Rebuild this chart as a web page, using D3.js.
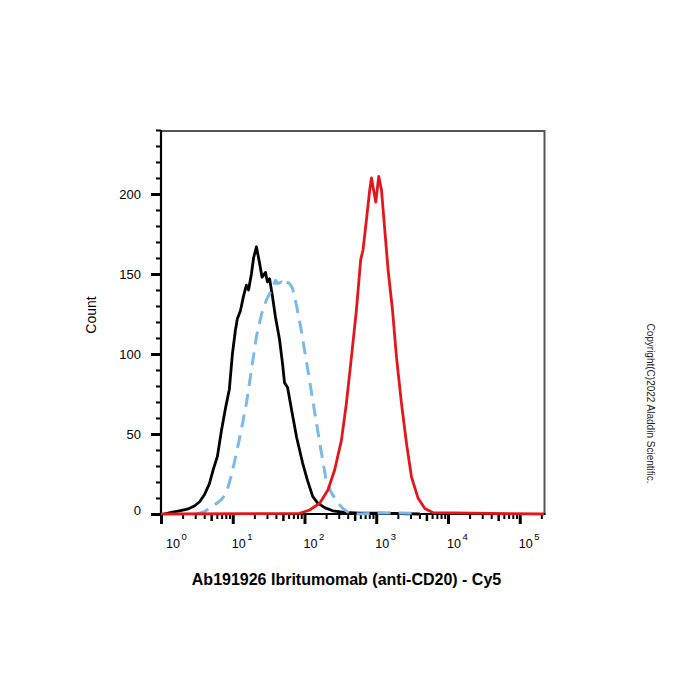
<!DOCTYPE html>
<html>
<head>
<meta charset="utf-8">
<script src="https://cdn.jsdelivr.net/npm/d3@7"></script>
<style>
  html, body { margin: 0; padding: 0; background: #fff; }
  svg { display: block; }
  text { font-family: "Liberation Sans", Arial, sans-serif; fill: #000; }
</style>
</head>
<body>
<svg id="chart" width="700" height="700"></svg>
<script>
// ---- data ----
const blackX = [1.11, 1.39, 1.80, 2.33, 2.92, 3.43, 4.03, 4.73, 5.37, 6.11, 6.95, 7.91, 8.97, 9.89, 10.9, 11.6, 12.8, 14.1, 15.5, 16.6, 18.2, 19.5, 21.4, 23.6, 25.6, 28.6, 30.5, 32.6, 35.8, 39.4, 44.9, 49.4, 52.7, 58.1, 66.1, 77.6, 94.0, 110, 130, 152, 191, 247, 363, 589, 1119, 4055];
const blackY = [0, 1, 2, 3, 5, 7.5, 12, 19, 28, 36, 52, 66, 78, 100, 115, 122, 127, 136, 143, 140, 150, 160, 167, 157, 148, 151, 145, 147, 136, 123, 109, 94, 82, 79, 65, 48, 32, 21, 11, 7, 4, 2, 1, 0.5, 0.5, 0];

const blueX = [3.11, 4.03, 4.73, 5.55, 6.95, 8.15, 9.27, 10.5, 12.0, 13.2, 15.5, 18.2, 21.4, 25.2, 29.6, 34.8, 39.5, 42.1, 47.9, 52.7, 56.2, 61.9, 68.2, 77.6, 88.3, 104, 122, 143, 168, 197, 232, 281, 341, 426, 589, 1119, 4055];
const blueY = [0, 1.5, 3.5, 5.5, 9, 13, 22, 32, 44, 53, 69, 90, 111, 125, 134, 140, 146, 144, 145, 143, 145, 144, 141, 130, 117, 98, 79, 60, 41, 23, 14, 8, 3.5, 0.5, 0, 0.6, 0.5];

const redX = [1, 85.5, 118, 163, 212, 263, 327, 383, 451, 529, 607, 654, 730, 811, 857, 984, 1084, 1183, 1315, 1462, 1684, 1914, 2249, 2641, 3102, 3835, 4753, 6207, 218000];
const redY = [0, 0.4, 2.5, 6.7, 15, 27.5, 46, 69, 98, 127.5, 159, 165, 184, 202.5, 210, 195, 211, 202.5, 177.5, 152.5, 127.5, 98, 69, 44, 23, 9.8, 3.5, 0.8, 0];

const countMajorTicks = [0, 50, 100, 150, 200];
const countMinorTicks = [0, 10, 20, 30, 40, 50, 60, 70, 80, 90, 100, 110, 120, 130, 140, 150, 160, 170, 180, 190, 200, 210, 220, 230, 240];
const decadeTicks = [1, 10, 100, 1000, 10000, 100000];
const decadeExponents = ["0", "1", "2", "3", "4", "5"];
const minorMultipliers = [2, 3, 4, 5, 6, 7, 8, 9];

const xTitle = "Ab191926 Ibritumomab (anti-CD20) - Cy5";
const yTitle = "Count";
const copyright = "Copyright(C)2022 Aladdin Scientific.";

// ---- layout ----
const pL = 161, pR = 544.5, pT = 130, pB = 514;
const svg = d3.select("#chart");

const x = d3.scaleLog().domain([1, Math.pow(10, 5.345)]).range([pL, pR]);
const y = d3.scaleLinear().domain([0, 240]).range([pB, pT]);

// frame (top & right, grey)
svg.append("path")
  .attr("d", `M${pL},${pT + 1} H${pR} V${pB}`)
  .attr("fill", "none").attr("stroke", "#555").attr("stroke-width", 2);

// y axis
const yMinor = svg.append("g").attr("transform", `translate(${pL},0)`)
  .call(d3.axisLeft(y).tickValues(countMinorTicks).tickSize(5).tickFormat(""));
yMinor.select(".domain").remove();
yMinor.selectAll(".tick line").attr("stroke", "#000").attr("stroke-width", 2);

const yMajor = svg.append("g").attr("transform", `translate(${pL},0)`)
  .call(d3.axisLeft(y).tickValues(countMajorTicks).tickSize(10).tickFormat(""));
yMajor.select(".domain").remove();
yMajor.selectAll(".tick line").attr("stroke", "#000").attr("stroke-width", 3);

svg.append("g").selectAll("text").data(countMajorTicks).join("text")
  .attr("x", 141)
  .attr("y", d => y(d) + (d === 0 ? -4 : 0))
  .attr("dy", "0.35em")
  .attr("text-anchor", "end")
  .attr("font-size", 13)
  .text(d => d);

// x axis ticks
const leadDigit = d => Math.round(d / Math.pow(10, Math.floor(Math.log10(d) + 1e-9)));
const minorVals = [];
decadeTicks.forEach(dv => minorMultipliers.forEach(m => {
  const v = dv * m;
  if (v <= x.domain()[1]) minorVals.push(v);
}));
const xMinor = svg.append("g").attr("transform", `translate(0,${pB})`)
  .call(d3.axisBottom(x).tickValues(minorVals).tickSize(5).tickFormat(""));
xMinor.select(".domain").remove();
xMinor.selectAll(".tick line")
  .attr("stroke", "#000")
  .attr("stroke-width", d => (leadDigit(d) === 5 ? 2.5 : 2))
  .attr("y2", d => (leadDigit(d) === 5 ? 7 : 5));

const xMajor = svg.append("g").attr("transform", `translate(0,${pB})`)
  .call(d3.axisBottom(x).tickValues(decadeTicks).tickSize(10).tickFormat(""));
xMajor.select(".domain").remove();
xMajor.selectAll(".tick line").attr("stroke", "#000").attr("stroke-width", 3);

// x tick labels 10^n
const xl = svg.append("g").selectAll("text").data(decadeTicks).join("text")
  .attr("x", (d, i) => x(d) + (i === 0 ? 5 : -1))
  .attr("y", 548)
  .attr("font-size", 12.5);
xl.append("tspan").text("10");
xl.append("tspan").attr("font-size", 9.5).attr("dx", 1.5).attr("dy", -8.5)
  .text((d, i) => decadeExponents[i]);

// axis lines
svg.append("line").attr("x1", pL).attr("x2", pL).attr("y1", pT).attr("y2", pB + 1)
  .attr("stroke", "#000").attr("stroke-width", 2.2);
svg.append("line").attr("x1", pL - 1).attr("x2", pR + 1).attr("y1", pB).attr("y2", pB)
  .attr("stroke", "#000").attr("stroke-width", 2.2);

// curves
const line = d3.line().x(d => x(d[0])).y(d => y(d[1]));
const zip = (a, b) => a.map((v, i) => [v, b[i]]);

svg.append("path").datum(zip(blackX, blackY)).attr("d", line)
  .attr("fill", "none").attr("stroke", "#000").attr("stroke-width", 2.8)
  .attr("stroke-linejoin", "round");
svg.append("path").datum(zip(blueX, blueY)).attr("d", line)
  .attr("fill", "none").attr("stroke", "#7db9e8").attr("stroke-width", 3)
  .attr("stroke-dasharray", "13,8").attr("stroke-linejoin", "round");
svg.append("path").datum(zip(redX, redY)).attr("d", line)
  .attr("fill", "none").attr("stroke", "#e3171b").attr("stroke-width", 2.8)
  .attr("stroke-linejoin", "round");

// titles
svg.append("text").attr("x", 346.5).attr("y", 585)
  .attr("text-anchor", "middle").attr("font-size", 16).attr("font-weight", "bold")
  .text(xTitle);
svg.append("text").attr("transform", "translate(96,315) rotate(-90)")
  .attr("text-anchor", "middle").attr("font-size", 14)
  .text(yTitle);
svg.append("text").attr("transform", "translate(647,403.5) rotate(90)")
  .attr("text-anchor", "middle").attr("font-size", 10).style("fill", "#222")
  .text(copyright);
</script>
</body>
</html>
